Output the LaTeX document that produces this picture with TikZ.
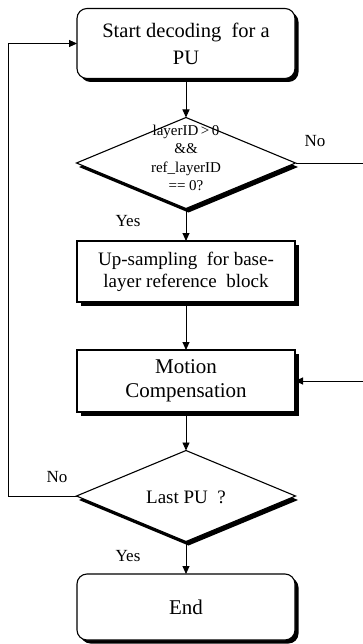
\documentclass[tikz,border=0pt]{standalone}
\usepackage{fontspec}
\setmainfont{Liberation Serif}
\usetikzlibrary{shapes.geometric,shadows,arrows.meta}
\begin{document}
\begin{tikzpicture}[x=1pt,y=-1pt,
  boxshadow/.style={drop shadow={shadow xshift=3.5pt,shadow yshift=-3.5pt,fill=black,opacity=1}},
  dshadow/.style={drop shadow={shadow xshift=2.5pt,shadow yshift=-4pt,fill=black,opacity=1}},
  procbox/.style={draw,line width=1.1pt,fill=white,inner sep=0pt,outer sep=0pt,minimum width=218pt,align=center,boxshadow},
  termbox/.style={procbox,rounded corners=10pt},
  decision/.style={draw,diamond,line width=1.1pt,fill=white,inner sep=0pt,outer sep=0pt,minimum width=219pt,dshadow},
  arr/.style={-{Triangle[length=8pt,width=7pt]},line width=0.9pt},
  lbl/.style={font=\fontsize{17}{20}\selectfont,inner sep=0pt}
]
\useasboundingbox[fill=white] (0,0) rectangle (363,644);

\node[termbox,minimum height=70pt,font=\fontsize{20.5}{27}\selectfont] (start) at (186,43.5) {Start decoding\ \ for a\\PU};
\node[decision,minimum height=91pt] (d1) at (186,163) {};
\node[align=center,inner sep=0pt,font=\fontsize{15}{18.5}\selectfont] (d1t) at (186,158) {layerID\,>\,0\\\&\&\\ref\_layerID\\== 0?};
\node[procbox,minimum height=61pt,font=\fontsize{19}{22}\selectfont] (up) at (186,271.5) {Up-sampling\ \ for base-\\layer reference\ \ block};
\node[procbox,minimum height=62pt,font=\fontsize{21}{24}\selectfont] (mc) at (186,381) {Motion\\Compensation};
\node[decision,minimum height=91pt] (d2) at (186,496) {};
\node[inner sep=0pt,font=\fontsize{19}{22}\selectfont] (d2t) at (186,497) {Last PU\ \ ?};
\node[termbox,minimum height=66pt,font=\fontsize{21}{24}\selectfont] (end) at (186,607) {End};

\coordinate (lx) at (8,0);
\coordinate (rx) at (363,0);

\draw[arr] (start.south) -- (d1.north);
\draw[arr] (d1.south) -- (up.north);
\draw[arr] (up.south) -- (mc.north);
\draw[arr] (mc.south) -- (d2.north);
\draw[arr] (d2.south) -- (end.north);
\draw[arr] (d2.west) -- (d2.west -| lx) |- (start.west);
\draw[arr] (d1.east) -- (d1.east -| rx) |- (mc.east);

\node[lbl] (no1) at (315,141) {No};
\node[lbl] (yes1) at (128,221) {Yes};
\node[lbl] (no2) at (57,477) {No};
\node[lbl] (yes2) at (128,556) {Yes};
\end{tikzpicture}
\end{document}
